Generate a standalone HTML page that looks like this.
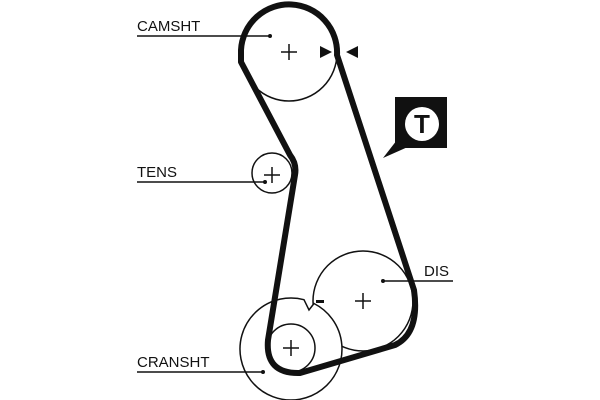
<!DOCTYPE html>
<html><head><style>body{margin:0;background:#fff}svg{display:block}text{font-family:"Liberation Sans",sans-serif;font-size:15px;fill:#111}</style></head>
<body><svg width="600" height="400" viewBox="0 0 600 400">
<rect width="600" height="400" fill="#fff"/>
<g fill="none" stroke="#111" stroke-width="1.5">
<circle cx="289" cy="53" r="48"/>
<circle cx="272" cy="173" r="20"/>
<circle cx="363" cy="301" r="50"/>
<path d="M304,299.7 A51,51 0 1 0 314,303.5 L309,310 Z" fill="#fff"/>
<circle cx="291" cy="348" r="24"/>
</g>
<path d="M337,55 A48,48 0 0 0 241,50 L241,62 L290,155 Q297,164 295,175 L268,340 Q265,374 300,373 L395,345 Q420,333 414,290 L337,55 Z" fill="none" stroke="#111" stroke-width="6" stroke-linejoin="round"/>
<g stroke="#111" stroke-width="1.5">
<path d="M281,52h16M289,44v16M264,175h16M272,167v16M355,301h16M363,293v16M283,348h16M291,340v16"/>
<path d="M137,36H270M137,182H265M383,281H453M137,372H263"/>
</g>
<g fill="#111"><circle cx="270" cy="36" r="2"/><circle cx="265" cy="182" r="2"/><circle cx="383" cy="281" r="2"/><circle cx="263" cy="372" r="2"/>
<polygon points="320,46 332,52 320,58"/><polygon points="358,46 346,52 358,58"/>
<rect x="316" y="300" width="8" height="3"/>
<rect x="395" y="97" width="52" height="51"/><polygon points="397,140 410,146 383,158"/></g>
<circle cx="422" cy="124" r="17" fill="#fff"/>
<text x="422" y="133" text-anchor="middle" style="font-size:26px;font-weight:bold">T</text>
<text x="137" y="31">CAMSHT</text><text x="137" y="177">TENS</text><text x="424" y="276">DIS</text><text x="137" y="367">CRANSHT</text>
</svg></body></html>
